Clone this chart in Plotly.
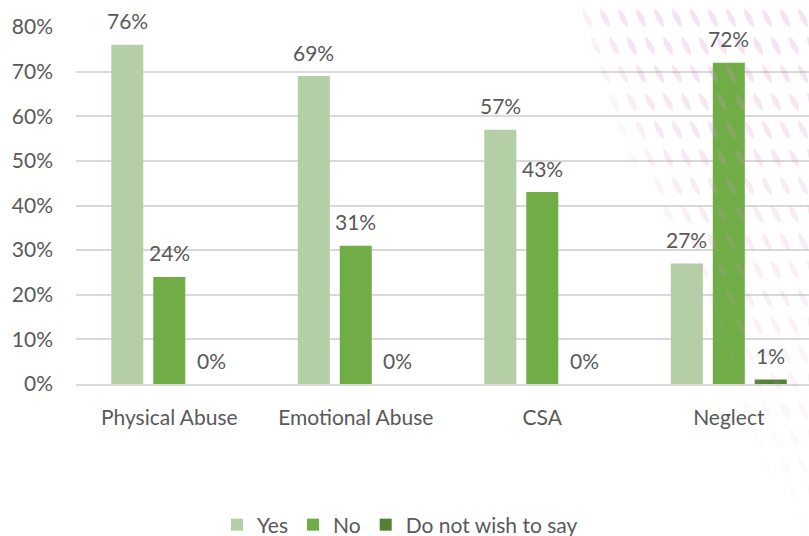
import math
import plotly.graph_objects as go

# Survey responses by abuse type (percent of respondents)
categories = ["Physical Abuse", "Emotional Abuse", "CSA", "Neglect"]
yes_pct = [76, 69, 57, 27]
no_pct = [24, 31, 43, 72]
dnws_pct = [0, 0, 0, 1]
series_names = ["Yes", "No", "Do not wish to say"]
series_colors = ["#b4cfa5", "#70ad47", "#548235"]
y_ticks = [0, 10, 20, 30, 40, 50, 60, 70, 80]
y_tick_labels = [f"{v}%" for v in y_ticks]

W, H = 809, 536
ML, MR, MT, MB = 76, 0, 27, 152
PW, PH = W - ML - MR, H - MT - MB

FONT = "Lato, 'Open Sans', sans-serif"
FS = 21
GREY = "#595959"

X_RANGE = [-0.5, 3.43]
BARGAP, GROUPGAP = 0.325, 0.237
n_series = len(series_names)
slot = (1 - BARGAP) / n_series                 # category units per bar slot
slot_px = slot * PW / (X_RANGE[1] - X_RANGE[0])

fig = go.Figure()
annotations = []
for k, (name, vals, col) in enumerate(zip(series_names, [yes_pct, no_pct, dnws_pct], series_colors)):
    fig.add_trace(go.Bar(
        name=name, x=categories, y=vals,
        marker=dict(color=col, line=dict(width=0)),
        cliponaxis=False,
    ))
    # value labels sit above each bar in its group slot
    shift = (k - (n_series - 1) / 2) * slot_px
    for cat, v in zip(categories, vals):
        annotations.append(dict(
            x=cat, y=v, xref="x", yref="y", text=f"{v}%", showarrow=False,
            xanchor="center", yanchor="middle", xshift=shift, yshift=24,
            font=dict(family=FONT, size=FS, color=GREY),
        ))


def to_paper(px, py):
    return (px - ML) / PW, (MT + PH - py) / PH


# Decorative pink leaf motif in the upper-right corner
shapes = []
ang = math.radians(63)
ux, uy = math.cos(ang), math.sin(ang)
nx, ny = -uy, ux
L, Wd = 22, 6
row = 0
for cy in range(-10, 540, 28):
    off = 9 if row % 2 else 0
    row += 1
    x_left = 565 + 0.42 * cy
    for cx in range(560 + off, 830, 18):
        if cx < x_left:
            continue
        alpha = 0.28 * max(0.0, 1 - cy / 600) * min(1.0, (cx - x_left) / 60 + 0.3)
        if alpha <= 0.02:
            continue
        t1 = (cx - ux * L / 2, cy - uy * L / 2)
        t2 = (cx + ux * L / 2, cy + uy * L / 2)
        c1 = (cx + nx * Wd, cy + ny * Wd)
        c2 = (cx - nx * Wd, cy - ny * Wd)
        p = [to_paper(*q) for q in (t1, c1, t2, c2)]
        path = (f"M{p[0][0]:.4f},{p[0][1]:.4f} Q{p[1][0]:.4f},{p[1][1]:.4f} "
                f"{p[2][0]:.4f},{p[2][1]:.4f} Q{p[3][0]:.4f},{p[3][1]:.4f} "
                f"{p[0][0]:.4f},{p[0][1]:.4f} Z")
        shapes.append(dict(type="path", path=path, xref="paper", yref="paper",
                           fillcolor=f"rgba(215,150,200,{alpha:.3f})",
                           line=dict(width=0), layer="above"))

fig.update_layout(
    width=W, height=H,
    margin=dict(l=ML, r=MR, t=MT, b=MB, pad=0, autoexpand=False),
    paper_bgcolor="white", plot_bgcolor="white",
    barmode="group", bargap=BARGAP, bargroupgap=GROUPGAP,
    font=dict(family=FONT, size=FS, color=GREY),
    showlegend=True,
    legend=dict(orientation="h", x=(400 - ML) / PW, xanchor="center",
                y=-(525 - (MT + PH)) / PH, yanchor="middle",
                font=dict(family=FONT, size=FS, color=GREY),
                traceorder="normal", itemwidth=30),
    xaxis=dict(range=X_RANGE, showgrid=False, showline=True,
               linecolor="#d9d9d9", linewidth=1.5, ticks="",
               tickfont=dict(family=FONT, size=FS, color=GREY),
               ticklabelstandoff=14, fixedrange=True),
    yaxis=dict(range=[0, 80], tickvals=y_ticks, ticktext=y_tick_labels,
               showgrid=True, gridcolor="#d9d9d9", gridwidth=1.5,
               zeroline=False, showline=False, ticks="",
               tickfont=dict(family=FONT, size=FS, color=GREY),
               ticklabelstandoff=22, fixedrange=True),
    shapes=shapes,
    annotations=annotations,
)

fig.write_html("out.html")
